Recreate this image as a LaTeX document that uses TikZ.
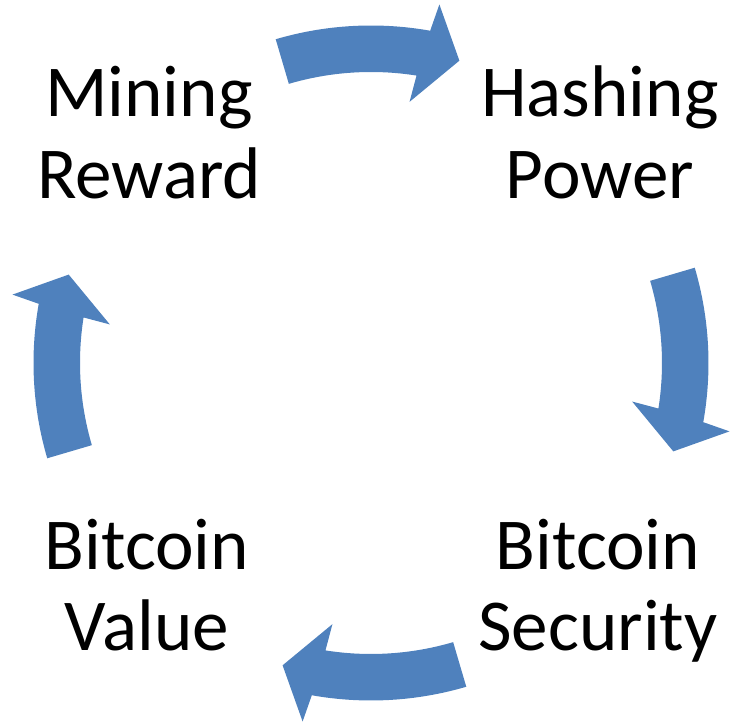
\documentclass[tikz,border=0pt]{standalone}
\usepackage{fontspec}
\setmainfont{Carlito}
\definecolor{cycleblue}{RGB}{79,129,189}
\tikzset{
	cyclefill/.style={fill=cycleblue, draw=none},
	cyclelabel/.style={font=\fontsize{52}{58}\selectfont, align=center, anchor=base, inner sep=0pt}
}
% one curved block arrow of the ring, turned by #1 degrees
\def\cyclearrow(#1){\fill[cyclefill, rotate=#1] (106.4:337.5) arc (106.4:79.9:337.5) -- (79.2:365) -- (73.7:315) -- (81.6:264) -- (81.0:291) arc (81.0:106.4:291) -- cycle;}

\begin{document}
\begin{tikzpicture}[scale=0.025]
		%%%%% START %%%%%
		
		\useasboundingbox (-371, -362) rectangle (359, 363);
		
		\cyclearrow(0)
		\cyclearrow(-90)
		\cyclearrow(180)
		\cyclearrow(90)
		
		% base sits on the second line
		\node[cyclelabel] (reward) at (-222, 164.5) {Mining\\Reward};
		\node[cyclelabel] (hashing) at (229, 164.5) {Hashing\\Power};
		\node[cyclelabel] (security) at (227, -288) {Bitcoin\\Security};
		\node[cyclelabel] (value) at (-224, -288) {Bitcoin\\Value};
		
		%%%%% END %%%%%
	\end{tikzpicture}
\end{document}
